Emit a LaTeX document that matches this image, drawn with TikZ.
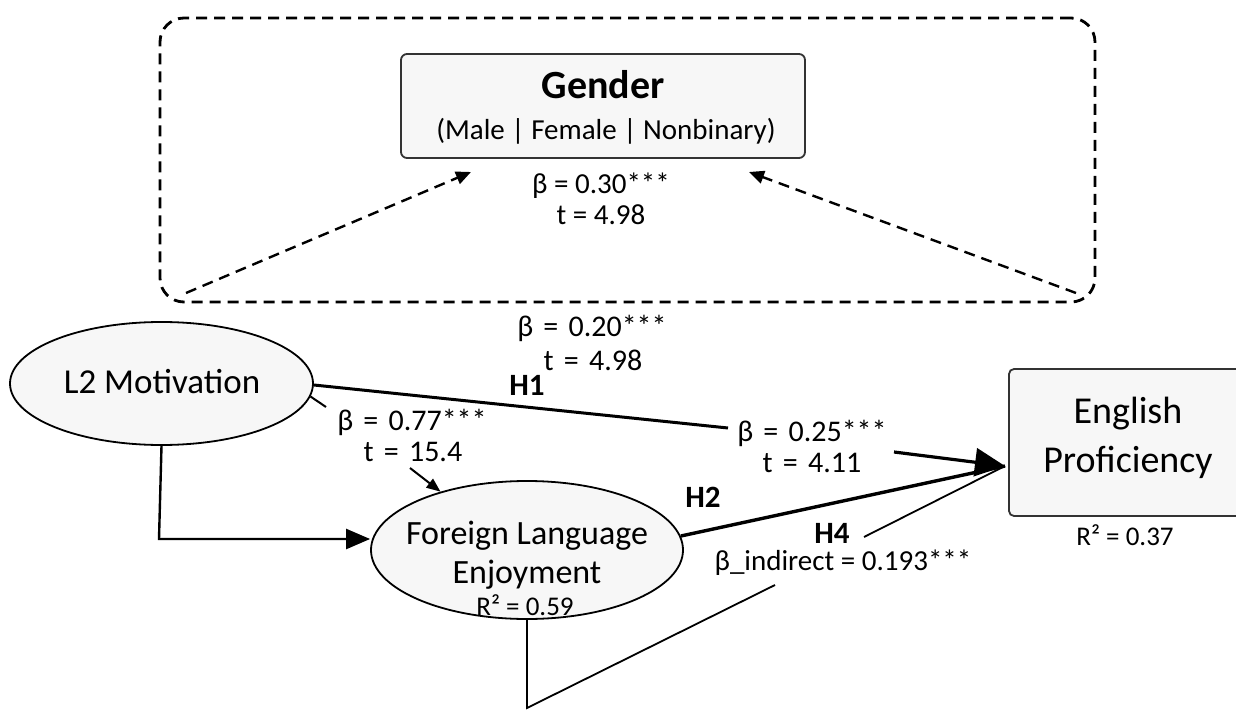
\documentclass[tikz,border=0pt]{standalone}
\usepackage{fontspec}
\setmainfont{Carlito}
\newfontfamily\widelbl{Carlito}[WordSpace=1.5]
\usetikzlibrary{arrows.meta,shapes.geometric,calc}
\definecolor{nodefill}{HTML}{F7F7F7}
\definecolor{edgegray}{HTML}{333333}
\begin{document}
\begin{tikzpicture}[x=1pt,y=-1pt,
  lbl/.style={font=\fontsize{29}{32}\selectfont, inner sep=0pt},
  widel/.style={font=\widelbl\fontsize{30}{33}\selectfont, inner sep=0pt},
  smalllbl/.style={font=\fontsize{27}{30}\selectfont, inner sep=0pt},
  hyp/.style={font=\fontsize{31}{34}\selectfont\bfseries, inner sep=0pt},
  ntxt/.style={font=\fontsize{34}{38}\selectfont, inner sep=0pt},
  ovalnode/.style={ellipse, draw=black, line width=1.8pt, fill=nodefill, inner sep=0pt},
  boxnode/.style={rectangle, rounded corners=6pt, draw=edgegray, line width=1.8pt, fill=nodefill, inner sep=0pt},
  dashline/.style={line width=2.8pt, dash pattern=on 11pt off 7pt},
  bighead/.style={-{Triangle[length=30pt,width=28pt]}},
  midhead/.style={-{Triangle[length=24pt,width=20pt]}},
  smallhead/.style={-{Triangle[length=14pt,width=11pt]}},
  dashhead/.style={-{Triangle[length=15pt,width=13pt]}}
]
\useasboundingbox (0,0) rectangle (1236,711);

% moderator frame
\node[draw=black, dashline, rounded corners=24pt, minimum width=935pt, minimum height=284pt, inner sep=0pt] (frame) at (627.5,160) {};

% nodes
\node[boxnode, minimum width=404pt, minimum height=104pt] (gender) at (603,106) {};
\node[font=\fontsize{40}{43}\selectfont\bfseries, inner sep=0pt] (gendert) at (603,85) {Gender};
\node[font=\fontsize{29}{32}\selectfont, inner sep=0pt] (genders) at (606,131) {(Male | Female | Nonbinary)};

\node[ovalnode, minimum width=303pt, minimum height=123pt] (l2) at (161.5,383.5) {};
\node[ntxt, font=\fontsize{35}{38}\selectfont] (l2t) at (162,382) {L2 Motivation};

\node[ovalnode, minimum width=312pt, minimum height=138pt] (fle) at (527,550) {};
\node[ntxt] (flet1) at (527,536) {Foreign Language};
\node[ntxt] (flet2) at (527,575) {Enjoyment};
\node[smalllbl] (fler) at (525,605) {R² = 0.59};

\node[boxnode, rounded corners=5pt, minimum width=238pt, minimum height=147pt] (eng) at (1128,442.5) {};
\node[ntxt, font=\fontsize{38}{41}\selectfont] (engt1) at (1128,414) {English};
\node[ntxt, font=\fontsize{38}{41}\selectfont] (engt2) at (1128,462) {Proficiency};
\node[smalllbl] (engr) at (1125,535) {R² = 0.37};

% labels
\node[lbl] (b30) at (601,186) {β = 0.30***};
\node[lbl] (t30) at (601,215) {t = 4.98};
\node[widel] (b20) at (592,328) {β = 0.20***};
\node[widel] (t20) at (593,360) {t = 4.98};
\node[hyp] (h1) at (527,385) {H1};
\node[widel] (b77) at (412,422) {β = 0.77***};
\node[widel] (t77) at (413,452) {t = 15.4};
\node[widel] (b25) at (812,433) {β = 0.25***};
\node[widel] (t25) at (812,463) {t = 4.11};
\node[hyp] (h2) at (703,497) {H2};
\node[hyp] (h4) at (832,533) {H4};
\node[lbl] (bind) at (843,563) {β\_indirect = 0.193***};

% coordinates
\coordinate (dl) at (186,293);
\coordinate (dr) at (1076,293);
\coordinate (gl) at (471,172);
\coordinate (gr) at (749,172);
\coordinate (tip) at (1005,466);
\coordinate (h1end) at (728,428);
\coordinate (h1start) at (894,452);
\coordinate (l2stub) at (326,407);
\coordinate (b77start) at (410,468);
\coordinate (h4start) at (864,537);
\coordinate (bottom) at (527,708);
\coordinate (indend) at (775,585);
\coordinate (elbow) at (159,539);

% dashed moderation arrows
\draw[dashline, line width=2.4pt, dashhead] (dl) -- (gl);
\draw[dashline, line width=2.4pt, dashhead] (dr) -- (gr);

% H1 direct path
\draw[line width=3pt] (l2.east) ++(0,1.5) -- (h1end);
\draw[line width=3.2pt, bighead] (h1start) -- (tip);

% L2 -> FLE
\draw[line width=2.4pt, midhead] (l2.south) -- (elbow) -- (fle.west |- elbow);
\draw[line width=2pt] (l2.-5) -- (l2stub);
\draw[line width=2pt, smallhead] (b77start) -- (fle.146);

% H2
\draw[line width=3.4pt] (fle.east) ++(-3,-14) -- (tip);
% H4
\draw[line width=1.8pt] (h4start) -- (tip);
% indirect path
\draw[line width=1.8pt] (fle.south) -- (bottom) -- (indend);
\end{tikzpicture}
\end{document}
